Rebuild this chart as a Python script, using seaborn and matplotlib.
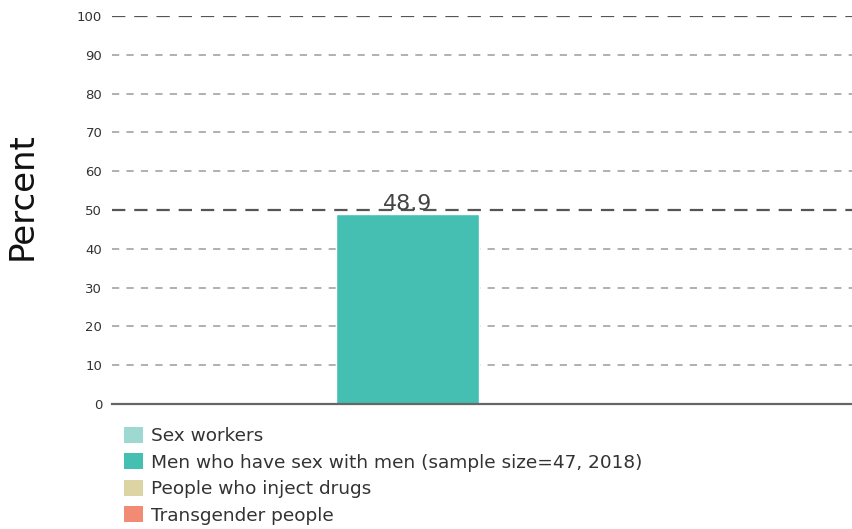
import numpy as np
import pandas as pd
import matplotlib
matplotlib.use("Agg")
import matplotlib.pyplot as plt
from matplotlib.patches import Patch
import seaborn as sns

# Key population groups and their reported percentages
groups = [
    "Sex workers",
    "Men who have sex with men (sample size=47, 2018)",
    "People who inject drugs",
    "Transgender people",
]
values = [np.nan, 48.9, np.nan, np.nan]
colors = ["#9dd9d0", "#45bfb2", "#dcd4a3", "#f28b74"]
yticks = [0, 10, 20, 30, 40, 50, 60, 70, 80, 90, 100]

sns.set_theme(style="white")
plt.rcParams["font.family"] = ["DejaVu Sans"]

df = pd.DataFrame({"cat": [""] * len(groups), "group": groups, "value": values})
palette = dict(zip(groups, colors))

fig = plt.figure(figsize=(8.53, 5.29), dpi=100)
ax = fig.add_axes([0.1313, 0.2363, 0.8687, 0.7335])

sns.barplot(data=df, x="cat", y="value", hue="group", hue_order=groups,
            palette=palette, width=0.77, saturation=1, legend=False, ax=ax,
            errorbar=None)

ax.set_xlim(-0.495, 0.505)
ax.set_ylim(0, 100)
ax.set_yticks(yticks)
ax.set_yticklabels([str(t) for t in yticks], fontsize=9.5, color="#333333")
ax.tick_params(axis="y", length=0, pad=7)
ax.set_xticks([])
ax.set_xlabel("")
ax.set_ylabel("Percent", fontsize=24.5, color="#111111")
ax.yaxis.set_label_coords(-0.099, 0.535)

for s in ["top", "right", "left"]:
    ax.spines[s].set_visible(False)
ax.spines["bottom"].set_color("#666666")
ax.spines["bottom"].set_linewidth(1.6)

# dashed horizontal guides; heavier at 50 and 100
for t in yticks[1:]:
    if t % 50 == 0:
        ax.axhline(t, color="#555555", lw=1.6, dashes=(6, 4), zorder=0.5)
    else:
        ax.axhline(t, color="#aaaaaa", lw=1.3, dashes=(4, 4), zorder=0.5)

for c in ax.containers:
    labels = ["" if np.isnan(v) else f"{v:.1f}" for v in c.datavalues]
    ax.bar_label(c, labels=labels, fontsize=16, color="#444444", padding=0)

handles = [Patch(facecolor=c, edgecolor="none") for c in colors]
fig.legend(handles, groups, loc="upper left", bbox_to_anchor=(0.145, 0.193),
           frameon=False, fontsize=13.3, handlelength=1.05, handleheight=0.95,
           handletextpad=0.45, labelspacing=0.44, borderaxespad=0,
           borderpad=0, labelcolor="#333333")

fig.savefig("out.png", dpi=100)
